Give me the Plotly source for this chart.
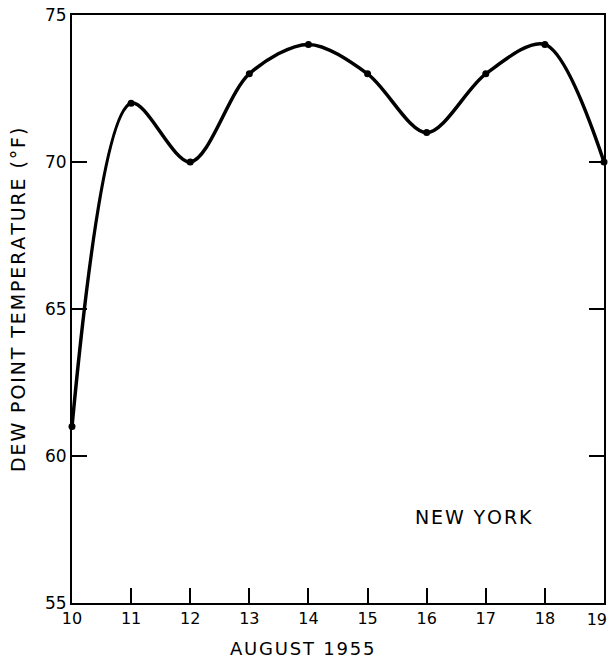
import plotly.graph_objects as go

days = [10, 11, 12, 13, 14, 15, 16, 17, 18, 19]
dew_point = [61, 72, 70, 73, 74, 73, 71, 73, 74, 70]
x_ticks = [10, 11, 12, 13, 14, 15, 16, 17, 18]
x_tick_text = ["10", "11", "12", "13", "14", "15", "16", "17", "18"]
x_last_tick = [19]
x_last_text = ["19"]
y_ticks = [55, 60, 65, 70, 75]

HS = "\u200a"


def spaced(s):
    return HS.join(list(s))


fig = go.Figure()
fig.add_trace(go.Scatter(
    x=days, y=dew_point, mode="lines+markers",
    line=dict(shape="spline", smoothing=0.9, color="black", width=3.5),
    marker=dict(size=7, color="black"),
    showlegend=False, cliponaxis=False,
))
# invisible helper trace so the overlay axis carrying the last label is drawn
fig.add_trace(go.Scatter(
    x=days[-1:], y=dew_point[-1:], xaxis="x2", yaxis="y",
    mode="markers", marker=dict(opacity=0), hoverinfo="skip",
    showlegend=False,
))

font = "DejaVu Sans, Liberation Sans, sans-serif"
fig.update_layout(
    width=608, height=662,
    margin=dict(l=72, r=4, t=15, b=59),
    paper_bgcolor="white", plot_bgcolor="white",
    font=dict(family=font, color="black", size=16),
    xaxis=dict(
        range=[10, 19], tickvals=x_ticks, ticktext=x_tick_text,
        ticks="inside", ticklen=15, tickwidth=1.5, tickcolor="black",
        showline=True, linecolor="black", linewidth=2, mirror=True,
        showgrid=False, zeroline=False,
        automargin=False, tickfont=dict(size=16),
    ),
    xaxis2=dict(
        range=[10, 19], tickvals=x_last_tick, ticktext=x_last_text,
        overlaying="x", side="bottom", anchor="y",
        ticks="", showline=False, showgrid=False, zeroline=False,
        ticklabelposition="outside left", automargin=False,
        ticklabeloverflow="allow", ticklabelshift=3, ticklabelstandoff=5,
        tickfont=dict(size=16),
    ),
    yaxis=dict(
        range=[55, 75], tickvals=y_ticks,
        ticks="inside", ticklen=15, tickwidth=1.5, tickcolor="black",
        showline=True, linecolor="black", linewidth=2, mirror="ticks",
        showgrid=False, zeroline=False, automargin=False,
        tickfont=dict(size=17),
    ),
    annotations=[
        dict(
            x=16.8, y=57.93, xref="x", yref="y", text=spaced("NEW YORK"),
            showarrow=False, font=dict(size=19, family=font, color="black"),
        ),
        dict(
            x=(302 - 72) / 532, y=0, xref="paper", yref="paper",
            yshift=-45, yanchor="middle", xanchor="center",
            text=spaced("AUGUST 1955"),
            showarrow=False, font=dict(size=18, family=font, color="black"),
        ),
        dict(
            x=0, y=(603 - 300) / 588, xref="paper", yref="paper",
            xshift=-54, xanchor="center", yanchor="middle", textangle=-90,
            text=spaced("DEW POINT TEMPERATURE (°F)"),
            showarrow=False, font=dict(size=19, family=font, color="black"),
        ),
    ],
)

fig.write_html("out.html")
